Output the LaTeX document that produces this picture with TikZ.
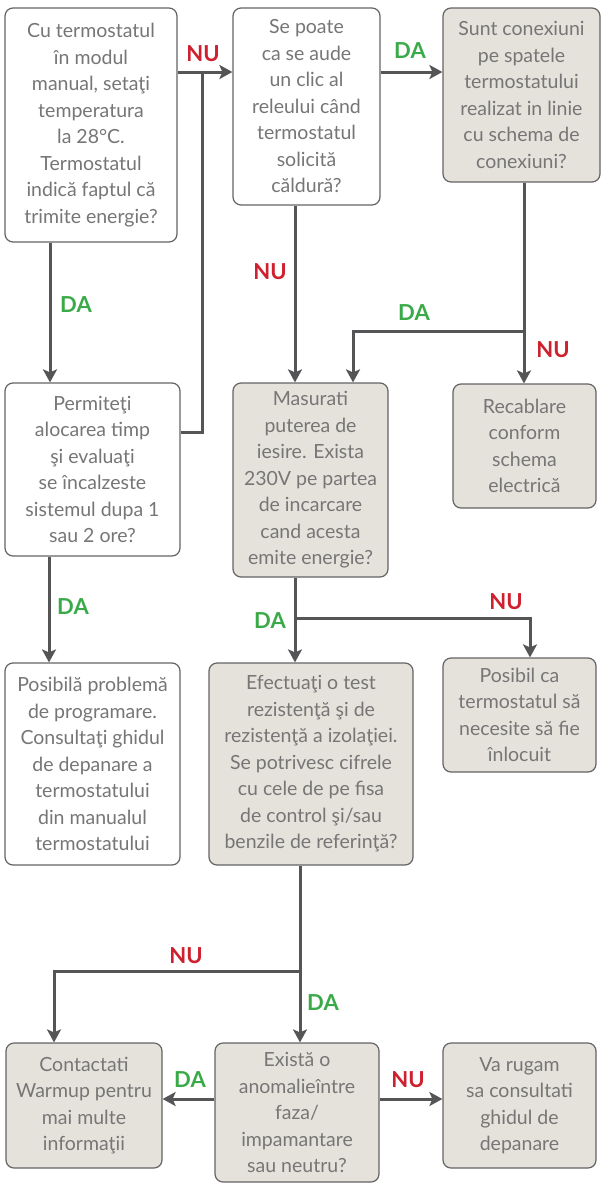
\documentclass[tikz,border=0pt]{standalone}
\usepackage{fontspec}
\setmainfont{Lato}
\usetikzlibrary{arrows.meta}
\definecolor{txtgray}{RGB}{118,118,118}
\definecolor{boxline}{RGB}{100,100,100}
\definecolor{boxfill}{RGB}{229,226,219}
\definecolor{conn}{RGB}{85,85,87}
\definecolor{dagreen}{RGB}{58,170,73}
\definecolor{nured}{RGB}{206,32,46}
\tikzset{
  box/.style={draw=boxline, line width=1.2pt, rounded corners=8pt, align=center,
    inner sep=0pt, text=txtgray, font=\fontsize{19.5}{26.5}\selectfont},
  wbox/.style={box, fill=white},
  gbox/.style={box, fill=boxfill},
  arr/.style={draw=conn, line width=3pt, -{Stealth[length=13pt,width=14pt,inset=3pt]}},
  ln/.style={draw=conn, line width=3pt},
  lblda/.style={text=dagreen, font=\fontsize{22}{22}\selectfont\bfseries, inner sep=0pt},
  lblnu/.style={text=nured, font=\fontsize{22}{22}\selectfont\bfseries, inner sep=0pt}
}
\begin{document}
\begin{tikzpicture}[x=1pt,y=-1pt]
\useasboundingbox[fill=white] (0,0) rectangle (602,1183);
% boxes
\node[wbox, minimum width=172pt, minimum height=234pt] (A) at (91,125) {Cu termostatul\\în modul\\manual, setaţi\\temperatura\\la 28°C.\\Termostatul\\indică faptul că\\trimite energie?};
\node[wbox, minimum width=147pt, minimum height=197pt] (B) at (306.5,106.5) {Se poate\\ca se aude\\un clic al\\releului când\\termostatul\\solicită\\căldură?};
\node[gbox, minimum width=157pt, minimum height=174pt] (C) at (521.5,95) {Sunt conexiuni\\pe spatele\\termostatului\\realizat in linie\\cu schema de\\conexiuni?};
\node[wbox, minimum width=175pt, minimum height=173pt] (D) at (92.5,469.5) {Permiteţi\\alocarea timp\\şi evaluaţi\\se încalzeste\\sistemul dupa 1\\sau 2 ore?};
\node[gbox, minimum width=155pt, minimum height=194pt] (E) at (310.5,480) {Masurati\\puterea de\\iesire. Exista\\230V pe partea\\de incarcare\\cand acesta\\emite energie?};
\node[gbox, minimum width=143pt, minimum height=124pt] (F) at (524.5,446) {Recablare\\conform\\schema\\electrică};
\node[wbox, minimum width=175pt, minimum height=202pt] (G) at (92.5,764) {Posibilă problemă\\de programare.\\Consultaţi ghidul\\de depanare a\\termostatului\\din manualul\\termostatului};
\node[gbox, minimum width=204pt, minimum height=202pt] (H) at (311,764) {Efectuaţi o test\\rezistenţă şi de\\rezistenţă a izolaţiei.\\Se potrivesc cifrele\\cu cele de pe fisa\\de control şi/sau\\benzile de referinţă?};
\node[gbox, minimum width=153pt, minimum height=114pt] (I) at (519.5,715) {Posibil ca\\termostatul să\\necesite să fie\\înlocuit};
\node[gbox, minimum width=156pt, minimum height=125pt] (J) at (84,1105.5) {Contactati\\Warmup pentru\\mai multe\\informaţii};
\node[gbox, minimum width=164pt, minimum height=139pt] (K) at (297,1112.5) {Există o\\anomalieîntre\\faza/\\impamantare\\sau neutru?};
\node[gbox, minimum width=153pt, minimum height=125pt] (L) at (519.5,1105.5) {Va rugam\\sa consultati\\ghidul de\\depanare};
% junction coordinates
\coordinate (j1) at (202,72);
\coordinate (j2) at (524,331);
\coordinate (j3) at (295,618);
\coordinate (j4) at (300,971);
% connectors
\draw[arr] (A.east |- j1) -- (B.west |- j1);
\draw[arr] (B.east |- j1) -- (C.west |- j1);
\draw[ln] (D.east |- 0,432) -- (202,432) -- (j1);
\draw[arr] (A.south -| 50,0) -- (D.north -| 50,0);
\draw[arr] (B.south -| 295,0) -- (E.north -| 295,0);
\draw[arr] (C.south -| j2) -- (F.north -| j2);
\draw[arr] (j2) -| (E.north -| 353,0);
\draw[arr] (E.south -| j3) -- (H.north -| j3);
\draw[arr] (j3) -| (I.north -| 530,0);
\draw[arr] (D.south -| 49,0) -- (G.north -| 49,0);
\draw[arr] (H.south -| j4) -- (K.north -| j4);
\draw[arr] (j4) -| (J.north -| 54,0);
\draw[arr] (K.west |- 0,1099) -- (J.east |- 0,1099);
\draw[arr] (K.east |- 0,1099) -- (L.west |- 0,1099);
% labels
\node[lblnu] (l1) at (203,54) {NU};
\node[lblda] (l2) at (410,51) {DA};
\node[lblda] (l3) at (76,305) {DA};
\node[lblnu] (l4) at (270,272) {NU};
\node[lblda] (l5) at (414,313) {DA};
\node[lblnu] (l6) at (553,350) {NU};
\node[lblda] (l7) at (73,607) {DA};
\node[lblda] (l8) at (270,621) {DA};
\node[lblnu] (l9) at (506,602) {NU};
\node[lblnu] (l10) at (186,956) {NU};
\node[lblda] (l11) at (323,1003) {DA};
\node[lblda] (l12) at (190,1080) {DA};
\node[lblnu] (l13) at (408,1080) {NU};
\end{tikzpicture}
\end{document}
